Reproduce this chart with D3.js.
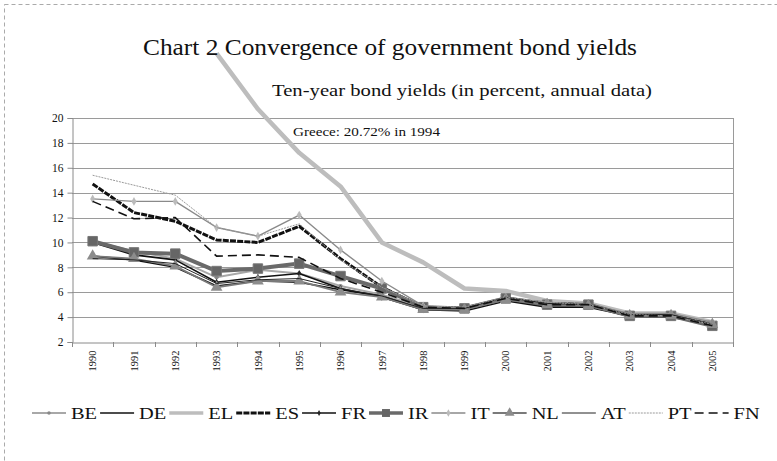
<!DOCTYPE html>
<html>
<head>
<meta charset="utf-8">
<script src="https://cdn.jsdelivr.net/npm/d3@7"></script>
<style>
  html, body { margin: 0; padding: 0; background: #fff; }
  svg { display: block; }
  text { font-family: "Liberation Serif", "DejaVu Serif", serif; fill: #111; }
</style>
</head>
<body>
<svg id="chart" width="777" height="461"></svg>
<script>
// Ten-year government bond yields, annual averages (percent)
const years = ["1990","1991","1992","1993","1994","1995","1996","1997","1998","1999","2000","2001","2002","2003","2004","2005"];
const BE = [10.1, 9.3, 8.7, 7.2, 7.8, 7.5, 6.5, 5.8, 4.8, 4.8, 5.6, 5.1, 5.0, 4.2, 4.2, 3.4];
const DE = [8.9, 8.6, 8.0, 6.5, 6.9, 6.8, 6.2, 5.7, 4.6, 4.5, 5.3, 4.8, 4.8, 4.1, 4.0, 3.4];
const EL = [null, null, null, 25.2, 20.72, 17.2, 14.5, 10.0, 8.4, 6.3, 6.1, 5.3, 5.1, 4.3, 4.3, 3.6];
const ES = [14.7, 12.4, 11.7, 10.2, 10.0, 11.3, 8.7, 6.4, 4.8, 4.7, 5.5, 5.1, 5.0, 4.1, 4.1, 3.4];
const FR = [10.0, 9.0, 8.6, 6.8, 7.2, 7.5, 6.3, 5.6, 4.6, 4.6, 5.4, 4.9, 4.9, 4.1, 4.1, 3.4];
const IR = [10.1, 9.2, 9.1, 7.7, 7.9, 8.3, 7.3, 6.3, 4.8, 4.7, 5.5, 5.0, 5.0, 4.1, 4.1, 3.3];
const IT = [13.5, 13.3, 13.3, 11.2, 10.5, 12.2, 9.4, 6.9, 4.9, 4.7, 5.6, 5.2, 5.0, 4.3, 4.3, 3.6];
const NL = [8.9, 8.7, 8.1, 6.4, 6.9, 6.9, 6.0, 5.6, 4.6, 4.6, 5.4, 5.0, 4.9, 4.1, 4.1, 3.4];
const AT = [8.7, 8.6, 8.3, 6.7, 7.0, 7.1, 6.3, 5.7, 4.7, 4.7, 5.6, 5.1, 5.0, 4.2, 4.2, 3.4];
const PT = [15.4, 14.6, 13.8, 11.2, 10.5, 11.5, 8.6, 6.4, 4.9, 4.8, 5.6, 5.2, 5.0, 4.2, 4.1, 3.4];
const FN = [13.3, 11.9, 12.0, 8.9, 9.0, 8.8, 7.1, 6.0, 4.8, 4.7, 5.5, 5.0, 5.0, 4.1, 4.1, 3.3];
const yTicks = [2, 4, 6, 8, 10, 12, 14, 16, 18, 20];

const titleText = "Chart 2 Convergence of government bond yields";
const subtitleText = "Ten-year bond yields (in percent, annual data)";
const noteText = "Greece: 20.72% in 1994";

// series styling
const series = [
  { key: "BE", values: BE, stroke: "#a8a8a8", width: 2,   dash: null,  marker: "circle",   mSize: 14, mFill: "#888" },
  { key: "DE", values: DE, stroke: "#111",    width: 1.6, dash: null,  marker: null },
  { key: "EL", values: EL, stroke: "#bdbdbd", width: 4.5, dash: null,  marker: null },
  { key: "ES", values: ES, stroke: "#111",    width: 3,   dash: "6,1.2", marker: null },
  { key: "FR", values: FR, stroke: "#111",    width: 1.6, dash: null,  marker: "diamond",  mSize: 14, mFill: "#222" },
  { key: "IR", values: IR, stroke: "#6a6a6a", width: 4,   dash: null,  marker: "square",   mSize: 90, mFill: "#666" },
  { key: "IT", values: IT, stroke: "#8a8a8a", width: 1.4, dash: null,  marker: "diamond",  mSize: 22, mFill: "#bbb" },
  { key: "NL", values: NL, stroke: "#7a7a7a", width: 1.8, dash: null,  marker: "triangle", mSize: 60, mFill: "#8c8c8c" },
  { key: "AT", values: AT, stroke: "#222",    width: 1,   dash: null,  marker: null },
  { key: "PT", values: PT, stroke: "#9a9a9a", width: 1,   dash: "2,1", marker: null },
  { key: "FN", values: FN, stroke: "#111",    width: 1.6, dash: "9,5", marker: null }
];

const SERIF = "'Liberation Serif', 'DejaVu Serif', serif";
const svg = d3.select("#chart");
const W = 777, H = 461;
const plot = { left: 72, right: 733, top: 118, bottom: 342 };

// frame
svg.append("rect")
  .attr("x", 4.5).attr("y", 4.5)
  .attr("width", W + 20).attr("height", H + 20)
  .attr("fill", "none").attr("stroke", "#aaa")
  .attr("stroke-width", 1).attr("stroke-dasharray", "4,3");

const x = d3.scaleBand().domain(years).range([plot.left, plot.right]).padding(0);
const y = d3.scaleLinear().domain([2, 20]).range([plot.bottom, plot.top]);

// grid
svg.append("g").selectAll("line").data(yTicks.slice(1)).join("line")
  .attr("x1", plot.left).attr("x2", plot.right)
  .attr("y1", d => Math.round(y(d)) + 0.5).attr("y2", d => Math.round(y(d)) + 0.5)
  .attr("stroke", "#9a9a9a").attr("stroke-width", 1);

// right frame edge
svg.append("line")
  .attr("x1", plot.right + 0.5).attr("x2", plot.right + 0.5)
  .attr("y1", plot.top).attr("y2", plot.bottom)
  .attr("stroke", "#9a9a9a");

// y axis
const yAxis = svg.append("g")
  .attr("transform", `translate(${plot.left + 0.5},0)`)
  .call(d3.axisLeft(y).tickValues(yTicks).tickSize(5).tickPadding(4).tickFormat(d3.format("d")))
  .attr("font-family", SERIF);
yAxis.select(".domain").attr("stroke", "#8a8a8a");
yAxis.selectAll(".tick line").attr("stroke", "#8a8a8a");
yAxis.selectAll("text")
  .style("font-family", SERIF).style("font-size", "11.5px").attr("fill", "#222");

// x axis with ticks at category boundaries
const xAxis = svg.append("g")
  .attr("transform", `translate(0,${plot.bottom + 0.5})`)
  .call(d3.axisBottom(x).tickSize(0).tickPadding(0))
  .attr("font-family", SERIF);
xAxis.select(".domain").attr("stroke", "#8a8a8a");
xAxis.selectAll(".tick text")
  .style("font-family", SERIF).style("font-size", "10.5px").attr("fill", "#222")
  .attr("text-anchor", "end")
  .attr("transform", "translate(0,8) rotate(-90)")
  .attr("x", 0).attr("y", 0).attr("dy", "0.35em");
const bounds = years.map(d => x(d)).concat([x(years[years.length - 1]) + x.bandwidth()]);
svg.append("g").selectAll("line").data(bounds).join("line")
  .attr("x1", d => Math.round(d) + 0.5).attr("x2", d => Math.round(d) + 0.5)
  .attr("y1", plot.bottom).attr("y2", plot.bottom + 5)
  .attr("stroke", "#8a8a8a");

// lines
const cx = d => x(d) + x.bandwidth() / 2;
const line = d3.line()
  .defined(d => d.v !== null)
  .x(d => cx(d.year))
  .y(d => y(d.v));

const symbolType = { circle: d3.symbolCircle, diamond: d3.symbolDiamond, square: d3.symbolSquare, triangle: d3.symbolTriangle };

const gLines = svg.append("g");
series.forEach(s => {
  const pts = years.map((yr, i) => ({ year: yr, v: s.values[i] }));
  gLines.append("path")
    .attr("d", line(pts))
    .attr("fill", "none")
    .attr("stroke", s.stroke)
    .attr("stroke-width", s.width)
    .attr("stroke-linejoin", "round")
    .attr("stroke-dasharray", s.dash);
  if (s.marker) {
    gLines.append("g").selectAll("path").data(pts.filter(p => p.v !== null)).join("path")
      .attr("transform", p => `translate(${cx(p.year)},${y(p.v)})`)
      .attr("d", d3.symbol().type(symbolType[s.marker]).size(s.mSize))
      .attr("fill", s.mFill)
      .attr("stroke", s.marker === "square" ? "#777" : "none");
  }
});

// fits a text element to a given width by stretching its glyphs
function fitWidth(sel, w) {
  sel.attr("textLength", w).attr("lengthAdjust", "spacingAndGlyphs");
}

// annotation
svg.append("text")
  .attr("x", 293).attr("y", 136)
  .style("font-family", SERIF)
  .style("font-size", "12px")
  .text(noteText)
  .call(fitWidth, 147);

// titles
svg.append("text")
  .attr("x", 143).attr("y", 55)
  .style("font-size", "23px")
  .text(titleText)
  .call(fitWidth, 494);
svg.append("text")
  .attr("x", 272).attr("y", 96)
  .style("font-size", "16.5px")
  .text(subtitleText)
  .call(fitWidth, 380);

// legend
const legend = svg.append("g").attr("transform", "translate(0,413)");
let lx = 32;
const sampleLen = 34;
series.forEach(s => {
  const g = legend.append("g");
  g.append("line")
    .attr("x1", lx).attr("x2", lx + sampleLen)
    .attr("y1", 0).attr("y2", 0)
    .attr("stroke", s.stroke)
    .attr("stroke-width", Math.min(s.width, 3.5))
    .attr("stroke-dasharray", s.dash);
  if (s.marker) {
    g.append("path")
      .attr("transform", `translate(${lx + sampleLen / 2},0)`)
      .attr("d", d3.symbol().type(symbolType[s.marker]).size(s.mSize * 0.7))
      .attr("fill", s.mFill);
  }
  const t = g.append("text")
    .attr("x", lx + sampleLen + 5).attr("y", 0).attr("dy", "0.35em")
    .style("font-size", "17px")
    .text(s.key);
  const tw = t.node().getComputedTextLength() * 1.2;
  fitWidth(t, tw);
  lx = lx + sampleLen + 5 + tw + 3;
});
</script>
</body>
</html>
